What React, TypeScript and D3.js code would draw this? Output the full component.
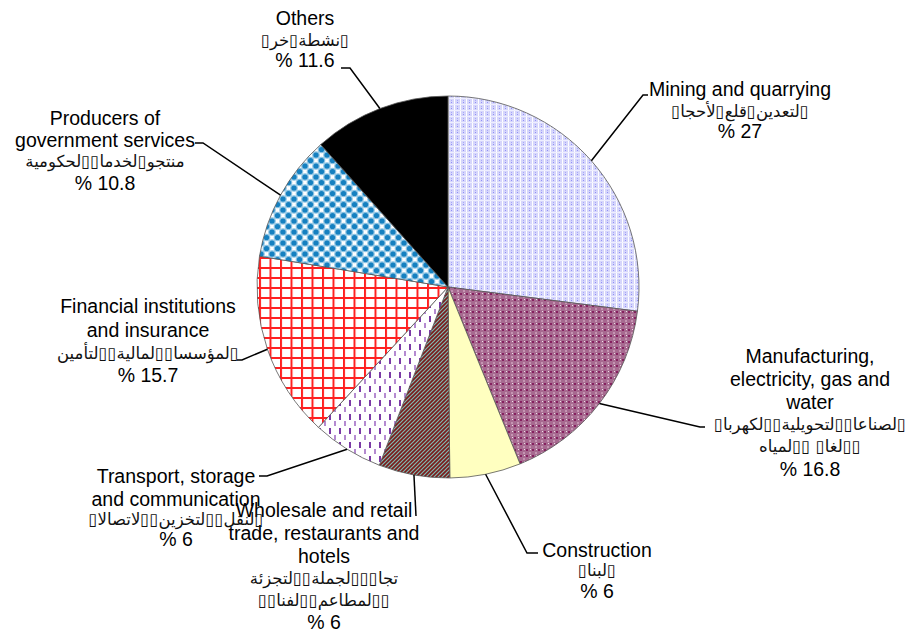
import React, { useEffect, useRef } from "react";
import * as d3 from "d3";

// ---- data ----
const categories = [
  "Mining and quarrying",
  "Manufacturing, electricity, gas and water",
  "Construction",
  "Wholesale and retail trade, restaurants and hotels",
  "Transport, storage and communication",
  "Financial institutions and insurance",
  "Producers of government services",
  "Others",
];
const shares = [27, 16.8, 6, 6, 6, 15.7, 10.8, 11.6];
const englishLines = [
  ["Mining and quarrying"],
  ["Manufacturing,", "electricity, gas and", "water"],
  ["Construction"],
  ["Wholesale and retail", "trade, restaurants and", "hotels"],
  ["Transport, storage", "and communication"],
  ["Financial institutions", "and insurance"],
  ["Producers of", "government services"],
  ["Others"],
];
const B = "\u25AF";
// Arabic labels in logical (reading) order; missing glyphs shown as boxes as in the source
const arabicLines: string[][] = [
  [`${B}لتعدين${B}قلع${B}لأحجا${B}`],
  [`${B}لصناعا${B}${B}لتحويلية${B}${B}لكهربا${B}`, `${B}${B}لغا${B} ${B}${B}لمياه`],
  [`${B}لبنا${B}`],
  [`تجا${B}${B}${B}لجملة${B}${B}لتجزئة`, `${B}${B}لمطاعم${B}${B}لفنا${B}${B}`],
  [`${B}لنقل${B}${B}لتخزين${B}${B}لاتصالا${B}`],
  [`${B}لمؤسسا${B}${B}لمالية${B}${B}لتأمين`],
  [`منتجو${B}لخدما${B}${B}لحكومية`],
  [`${B}نشطة${B}خر${B}`],
];

// ---- layout (positions only) ----
const W = 909, H = 637;
const CX = 448, CY = 287, R = 191;
const labelLayout = [
  { x: 740, base: [96, 117, 138], elbow: [643, 95], end: [648, 95] },
  { x: 810, base: [363, 386, 409, 430, 452, 476], elbow: [700, 427], end: [705, 427] },
  { x: 597, base: [557, 576, 598], elbow: [527, 553], end: [538, 553] },
  { x: 324, base: [517, 540, 563, 584, 606, 629], elbow: [416, 516], end: [416, 516] },
  { x: 176, base: [483, 506, 525, 546], elbow: [267, 476], end: [259, 476] },
  { x: 148, base: [313, 337, 359, 382], elbow: [242, 360], end: [237, 360] },
  { x: 105, base: [125, 147, 167, 190], elbow: [203, 143], end: [195, 143] },
  { x: 305, base: [25, 46, 67], elbow: [350, 68], end: [341, 68] },
];
const patternIds = ["pMining", "pManuf", null, "pTrade", "pTrans", "pFin", "pGov", null];
const solidFills = [null, null, "#ffffc0", null, null, null, null, "#000000"];

const EN_FONT = "'Liberation Sans', Arial, sans-serif";
const AR_FONT = "'DejaVu Sans', sans-serif";

export default function App() {
  const ref = useRef<SVGSVGElement>(null);
  useEffect(() => {
    const svg = d3.select(ref.current);
    svg.selectAll("*").remove();
    const defs = svg.append("defs");

    // Mining: lavender plaid
    const p1 = defs.append("pattern").attr("id", "pMining").attr("patternUnits", "userSpaceOnUse").attr("width", 6).attr("height", 6);
    p1.append("rect").attr("width", 6).attr("height", 6).attr("fill", "#d6d6fb");
    p1.append("rect").attr("x", 0).attr("y", 0).attr("width", 1).attr("height", 6).attr("fill", "#ffffff");
    p1.append("rect").attr("x", 0).attr("y", 3).attr("width", 6).attr("height", 1).attr("fill", "#eeeeff");
    p1.append("rect").attr("x", 3).attr("y", 1).attr("width", 1).attr("height", 1).attr("fill", "#8f8ff5");
    p1.append("rect").attr("x", 3).attr("y", 5).attr("width", 1).attr("height", 1).attr("fill", "#a8a8f8");

    // Manufacturing: mauve check
    const p2 = defs.append("pattern").attr("id", "pManuf").attr("patternUnits", "userSpaceOnUse").attr("width", 6).attr("height", 6);
    p2.append("rect").attr("width", 6).attr("height", 6).attr("fill", "#a76a90");
    p2.append("rect").attr("x", 0).attr("y", 0).attr("width", 2).attr("height", 2).attr("fill", "#85205f");
    p2.append("rect").attr("x", 3).attr("y", 3).attr("width", 2).attr("height", 2).attr("fill", "#c494b2");
    p2.append("rect").attr("x", 4).attr("y", 0).attr("width", 1).attr("height", 1).attr("fill", "#f0e0ea");

    // Trade: dark red with teal diagonals
    const p3 = defs.append("pattern").attr("id", "pTrade").attr("patternUnits", "userSpaceOnUse").attr("width", 4).attr("height", 4);
    p3.append("rect").attr("width", 4).attr("height", 4).attr("fill", "#7a1a1a");
    p3.append("path").attr("d", "M-1,1 L1,-1 M0,4 L4,0 M3,5 L5,3").attr("stroke", "#7fb8b0").attr("stroke-width", 1.2);

    // Transport: white with purple dashes
    const p4 = defs.append("pattern").attr("id", "pTrans").attr("patternUnits", "userSpaceOnUse").attr("width", 10).attr("height", 14);
    p4.append("rect").attr("width", 10).attr("height", 14).attr("fill", "#ffffff");
    p4.append("rect").attr("x", 1).attr("y", 1).attr("width", 2).attr("height", 6).attr("fill", "#7b3aa6");
    p4.append("rect").attr("x", 6).attr("y", 8).attr("width", 2).attr("height", 5).attr("fill", "#b48ad0");

    // Financial: red grid
    const p5 = defs.append("pattern").attr("id", "pFin").attr("patternUnits", "userSpaceOnUse").attr("width", 10.5).attr("height", 10);
    p5.append("rect").attr("width", 10.5).attr("height", 10).attr("fill", "#ffffff");
    p5.append("rect").attr("x", 0).attr("y", 0).attr("width", 10.5).attr("height", 2).attr("fill", "#ff2020");
    p5.append("rect").attr("x", 0).attr("y", 0).attr("width", 2).attr("height", 10).attr("fill", "#ff2020");

    // Government: blue diamond dots
    const p6 = defs.append("pattern").attr("id", "pGov").attr("patternUnits", "userSpaceOnUse").attr("width", 11).attr("height", 11);
    p6.append("rect").attr("width", 11).attr("height", 11).attr("fill", "#ffffff");
    [[0, 0], [11, 0], [0, 11], [11, 11], [5.5, 5.5]].forEach(([x, y]) => {
      p6.append("circle").attr("cx", x).attr("cy", y).attr("r", 3.8).attr("fill", "#8cc3e3");
      p6.append("circle").attr("cx", x).attr("cy", y).attr("r", 2.6).attr("fill", "#1580c0");
    });

    const pie = d3.pie<number>().sort(null).value((d) => d);
    const arcs = pie(shares);
    const arc = d3.arc<d3.PieArcDatum<number>>().innerRadius(0).outerRadius(R);

    const g = svg.append("g").attr("transform", `translate(${CX},${CY})`);
    g.selectAll("path.slice")
      .data(arcs)
      .join("path")
      .attr("class", "slice")
      .attr("d", arc as any)
      .attr("fill", (_d, i) => (patternIds[i] ? `url(#${patternIds[i]})` : (solidFills[i] as string)))
      .attr("stroke", "#555")
      .attr("stroke-width", 0.8);

    // leader lines
    arcs.forEach((a, i) => {
      const mid = (a.startAngle + a.endAngle) / 2;
      const sx = CX + R * Math.sin(mid);
      const sy = CY - R * Math.cos(mid);
      const L = labelLayout[i];
      svg.append("path")
        .attr("d", `M${sx},${sy} L${L.elbow[0]},${L.elbow[1]} L${L.end[0]},${L.end[1]}`)
        .attr("fill", "none")
        .attr("stroke", "#000")
        .attr("stroke-width", 1.5);
    });

    // labels
    categories.forEach((_c, i) => {
      const L = labelLayout[i];
      let k = 0;
      englishLines[i].forEach((t) => {
        svg.append("text").attr("x", L.x).attr("y", L.base[k++]).attr("text-anchor", "middle")
          .attr("font-family", EN_FONT).attr("font-size", 19.5).attr("fill", "#000").text(t);
      });
      arabicLines[i].forEach((t) => {
        svg.append("text").attr("x", L.x).attr("y", L.base[k++]).attr("text-anchor", "middle")
          .attr("direction", "rtl")
          .attr("font-family", AR_FONT).attr("font-size", 16.5).attr("fill", "#111")
          .text(t);
      });
      svg.append("text").attr("x", L.x).attr("y", L.base[k++]).attr("text-anchor", "middle")
        .attr("font-family", EN_FONT).attr("font-size", 19.5).attr("fill", "#000").text(`% ${shares[i]}`);
    });
  }, []);
  return (
    <svg ref={ref} width={W} height={H} style={{ position: "absolute", left: 0, top: 0, background: "#fff" }} />
  );
}
